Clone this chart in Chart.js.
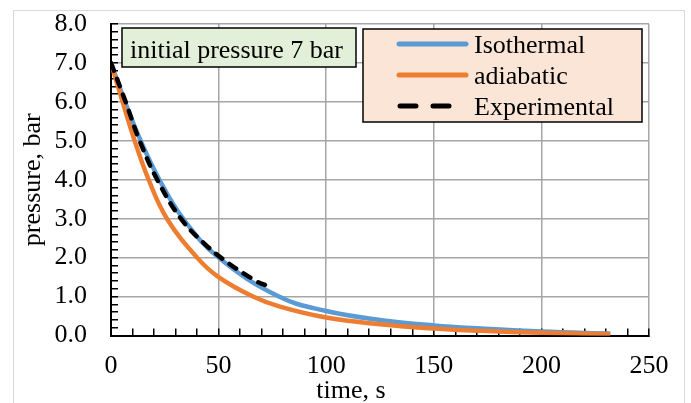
<!DOCTYPE html>
<html>
<head>
  <title>Pressure decay</title>
  <script src="https://cdn.jsdelivr.net/npm/chart.js@4.4.0/dist/chart.umd.min.js"></script>
  <style>
    body { margin: 0; background: #fff; }
  </style>
</head>
<body>
  <canvas id="pressureChart" width="691" height="403"></canvas>

  <script>
    // values (time in s, pressure in bar)
    const isoTime = [0, 6.5, 13.8, 22.5, 33.5, 50, 78, 100, 125, 150, 172, 200, 232];
    const isoPressure = [7.0, 6.0, 5.0, 4.0, 3.0, 2.0, 1.0, 0.63, 0.40, 0.26, 0.18, 0.10, 0.05];

    const adiTime = [0, 5.4, 11, 17.5, 26, 40, 50, 66, 78.5, 100, 125, 150, 172, 200, 232];
    const adiPressure = [7.0, 6.0, 5.0, 4.0, 3.0, 2.0, 1.5, 1.0, 0.74, 0.46, 0.29, 0.18, 0.12, 0.07, 0.03];

    const expTime = [0, 6.8, 13.3, 21.5, 32.5, 44, 55, 68, 71.5];
    const expPressure = [7.0, 6.0, 5.0, 4.0, 3.0, 2.33, 1.84, 1.38, 1.30];

    const seriesNames = ['Isothermal', 'adiabatic', 'Experimental'];
    const noteText = 'initial pressure 7 bar';
    const xTitle = 'time, s';
    const yTitle = 'pressure, bar';

    const serif = '"Liberation Serif", "Times New Roman", serif';
    const toPoints = (xs, ys) => xs.map((x, i) => ({ x: x, y: ys[i] }));
    const isMajor = (v, step) => Math.abs(v / step - Math.round(v / step)) < 1e-6;

    // chart frame, note box, legend box and x title
    const decor = {
      id: 'decor',
      beforeDraw(chart) {
        const c = chart.ctx;
        c.save();
        c.strokeStyle = '#d9d9d9';
        c.lineWidth = 1;
        c.strokeRect(13.5, 10.5, 671, 400);
        c.restore();
      },
      afterDraw(chart) {
        const c = chart.ctx;
        c.save();
        c.font = '26px ' + serif;
        c.textBaseline = 'alphabetic';

        // note box
        c.fillStyle = '#e2f0d9';
        c.fillRect(122, 28, 234, 39);
        c.strokeStyle = '#000';
        c.lineWidth = 1.5;
        c.strokeRect(122, 28, 234, 39);
        c.fillStyle = '#000';
        c.textAlign = 'left';
        c.fillText(noteText, 130, 58);

        // legend
        c.fillStyle = '#fbe5d6';
        c.fillRect(363, 29, 279, 93);
        c.strokeRect(363, 29, 279, 93);
        const rows = [44, 75, 106];
        chart.data.datasets.forEach((ds, i) => {
          const y = rows[i];
          c.beginPath();
          c.strokeStyle = ds.borderColor;
          c.lineWidth = 5;
          c.lineCap = 'round';
          if (ds.borderDash.length) {
            c.setLineDash([16, 17]);
            c.moveTo(400, y);
            c.lineTo(450, y);
          } else {
            c.setLineDash([]);
            c.moveTo(399, y);
            c.lineTo(466, y);
          }
          c.stroke();
          c.setLineDash([]);
          c.fillStyle = '#000';
          c.fillText(ds.label, 474, y + 9);
        });

        // x axis title
        c.textAlign = 'center';
        c.fillText(xTitle, 351, 398);
        c.restore();
      }
    };

    const ctx = document.getElementById('pressureChart').getContext('2d');
    new Chart(ctx, {
      type: 'line',
      data: {
        datasets: [
          {
            label: seriesNames[0],
            data: toPoints(isoTime, isoPressure),
            borderColor: '#5b9bd5',
            borderWidth: 4.5,
            borderDash: [],
            order: 3
          },
          {
            label: seriesNames[1],
            data: toPoints(adiTime, adiPressure),
            borderColor: '#ed7d31',
            borderWidth: 4.5,
            borderDash: [],
            order: 2
          },
          {
            label: seriesNames[2],
            data: toPoints(expTime, expPressure),
            borderColor: '#000',
            borderWidth: 4.5,
            borderDash: [8, 9],
            borderCapStyle: 'round',
            order: 1
          }
        ]
      },
      options: {
        responsive: false,
        animation: false,
        layout: { padding: { top: 24, right: 42, bottom: 0, left: 0 } },
        elements: {
          point: { radius: 0 },
          line: { tension: 0.4, fill: false }
        },
        plugins: {
          legend: { display: false },
          tooltip: { enabled: false }
        },
        scales: {
          x: {
            type: 'linear',
            min: 0,
            max: 250,
            afterFit: scale => { scale.height = 67.5; },
            ticks: {
              stepSize: 10,
              autoSkip: false,
              maxRotation: 0,
              padding: 22,
              color: '#000',
              font: { family: serif, size: 26 },
              callback: v => isMajor(v, 50) ? String(v) : ''
            },
            grid: {
              color: c => isMajor(c.tick.value, 50) ? '#a6a6a6' : 'rgba(0,0,0,0)',
              lineWidth: 1.5,
              tickLength: -7,
              tickColor: '#000',
              tickWidth: 1.5
            },
            border: { color: '#000', width: 2 }
          },
          y: {
            min: 0,
            max: 8,
            afterFit: scale => {
              scale.width = 111;
              scale.paddingTop = 0;
              scale.paddingBottom = 0;
            },
            ticks: {
              stepSize: 0.2,
              autoSkip: false,
              padding: 31,
              color: '#000',
              font: { family: serif, size: 26 },
              callback: v => isMajor(v, 1) ? v.toFixed(1) : ''
            },
            grid: {
              color: c => isMajor(c.tick.value, 1) ? '#a6a6a6' : 'rgba(0,0,0,0)',
              lineWidth: 1.5,
              tickLength: -7,
              tickColor: '#000',
              tickWidth: 1.5
            },
            border: { color: '#000', width: 2 },
            title: {
              display: true,
              text: yTitle,
              color: '#000',
              font: { family: serif, size: 26 },
              padding: { top: 18, bottom: 0 }
            }
          }
        }
      },
      plugins: [decor]
    });
  </script>
</body>
</html>
